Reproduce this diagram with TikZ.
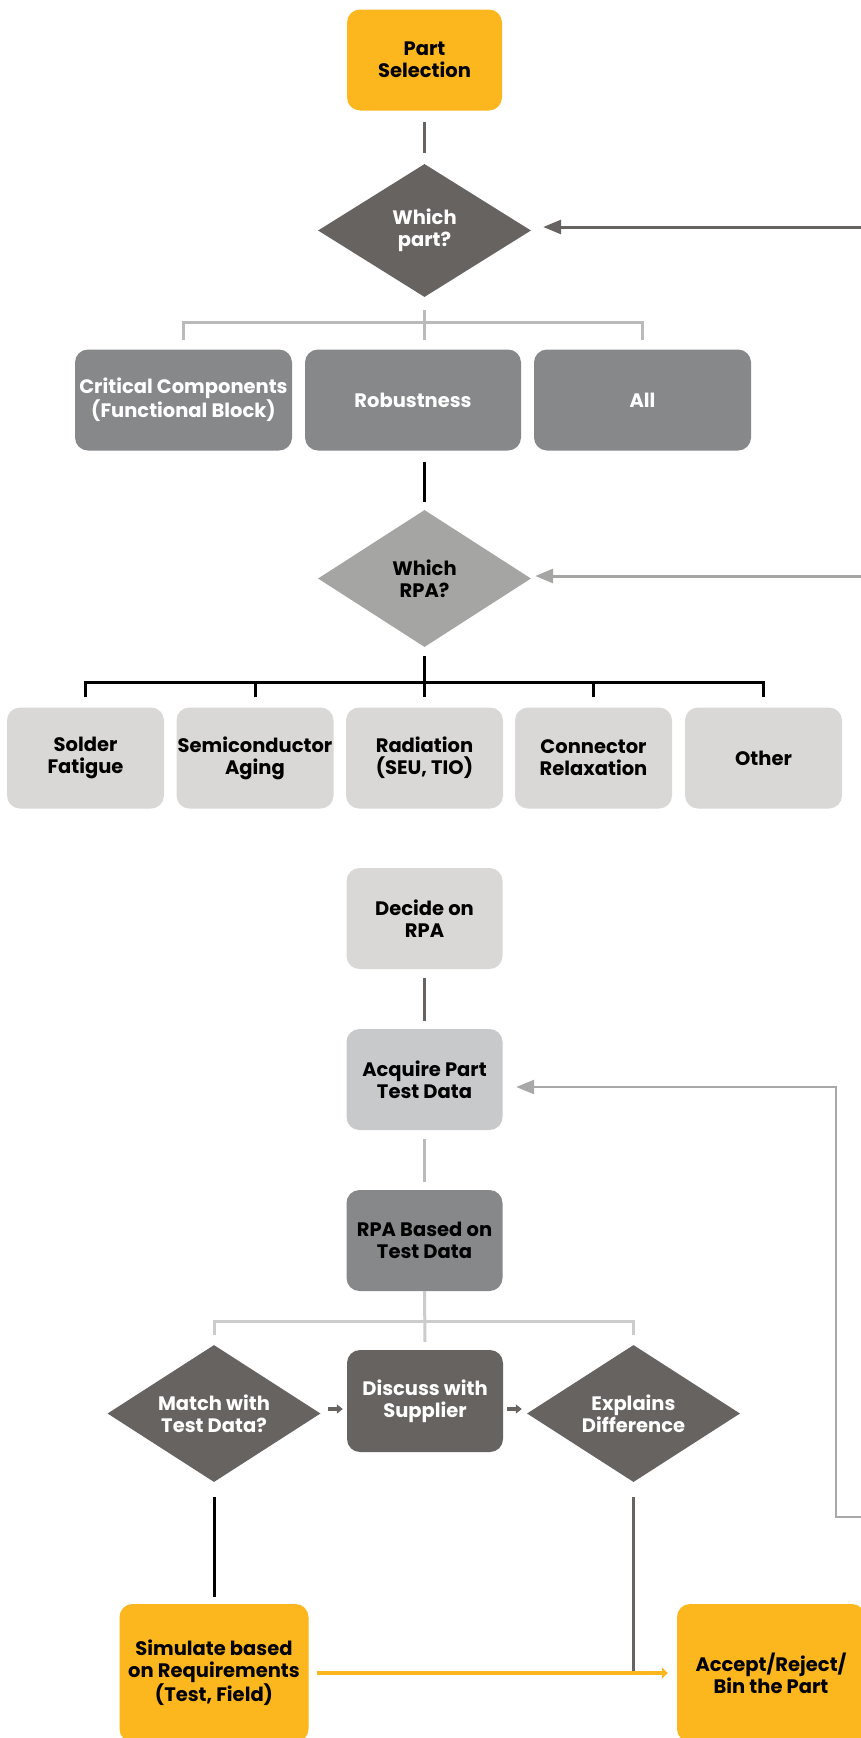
\documentclass[tikz,border=0pt]{standalone}
\usepackage{fontspec}
\setmainfont{Poppins}
\usetikzlibrary{shapes.geometric,arrows.meta}

\definecolor{partyellow}{RGB}{253,183,30}
\definecolor{darkgrey}{RGB}{103,99,97}
\definecolor{midgrey}{RGB}{135,136,138}
\definecolor{rpagrey}{RGB}{165,165,164}
\definecolor{lightgrey}{RGB}{217,216,214}
\definecolor{coolgrey}{RGB}{200,201,203}
\definecolor{linegrey}{RGB}{186,186,186}
\definecolor{palegrey}{RGB}{204,204,204}
\definecolor{loopgrey}{RGB}{168,168,168}

\begin{document}
\begin{tikzpicture}[x=1pt,y=1pt,yscale=-1,
    box/.style={rectangle, rounded corners=13pt, inner sep=0pt, align=center,
      minimum height=101pt, font=\bfseries\fontsize{19.5}{22}\selectfont},
    choice/.style={diamond, aspect=1.6, inner sep=0pt, align=center, minimum width=213pt,
      minimum height=137pt, font=\bfseries\fontsize{19.5}{22}\selectfont},
    wire/.style={line width=3pt},
    tip/.style={-{Triangle[length=18pt,width=14pt]}}]
      \clip (0,0) rectangle (861,1738);
      \fill[white] (0,0) rectangle (861,1738);

      %Rounded Rect [Part Selection]
      \node[box, fill=partyellow, minimum width=155pt] (select) at (424.5,60) {Part\\Selection};
      %Diamond [Which part]
      \node[choice, fill=darkgrey, text=white, minimum height=133pt] (whichpart) at (424.5,230.5) {Which\\part?};

      %Rounded Rect [scope]
      \node[box, fill=midgrey, text=white, minimum width=217pt] (crit) at (183.5,400) {Critical Components\\(Functional Block)};
      \node[box, fill=midgrey, text=white, minimum width=216pt] (robust) at (413,400) {Robustness};
      \node[box, fill=midgrey, text=white, minimum width=217pt] (all) at (642.5,400) {All};

      %Diamond [Which RPA]
      \node[choice, fill=rpagrey] (whichrpa) at (424.5,578.5) {Which\\RPA?};

      %Rounded Rect [RPA kinds]
      \node[box, fill=lightgrey, minimum width=157pt] (solder) at (85.5,758) {Solder\\Fatigue};
      \node[box, fill=lightgrey, minimum width=157pt] (semi) at (255,758) {Semiconductor\\Aging};
      \node[box, fill=lightgrey, minimum width=157pt] (rad) at (424.5,758) {Radiation\\(SEU, TIO)};
      \node[box, fill=lightgrey, minimum width=157pt] (conn) at (593.5,758) {Connector\\Relaxation};
      \node[box, fill=lightgrey, minimum width=157pt] (other) at (763.5,758) {Other};

      %Rounded Rect [main column]
      \node[box, fill=lightgrey, minimum width=156pt] (decide) at (424.5,918.5) {Decide on\\RPA};
      \node[box, fill=coolgrey, minimum width=156pt] (acquire) at (424.5,1079.5) {Acquire Part\\Test Data};
      \node[box, fill=midgrey, minimum width=156pt] (rpabased) at (424.5,1240.5) {RPA Based on\\Test Data};

      %Diamonds and Rounded Rect [check]
      \node[choice, fill=darkgrey, text=white] (match) at (214,1413.5) {Match with\\Test Data?};
      \node[box, fill=darkgrey, text=white, minimum width=156pt, minimum height=102pt] (discuss) at (425,1401) {Discuss with\\Supplier};
      \node[choice, fill=darkgrey, text=white] (explain) at (633.5,1413.5) {Explains\\Difference};

      %Rounded Rect [outcome]
      \node[box, fill=partyellow, minimum width=189pt, minimum height=138pt] (sim) at (214,1673) {Simulate based\\on Requirements\\(Test, Field)};
      \node[box, fill=partyellow, minimum width=188pt, minimum height=138pt] (accept) at (771,1673) {Accept/Reject/\\Bin the Part};

      % Coordinates
      \coordinate (fork1) at (424.5,322);
      \coordinate (fork2) at (424.5,682);
      \coordinate (fork3) at (424.5,1321);
      \coordinate (partin) at (861,227);
      \coordinate (rpain) at (861,576);
      \coordinate (loopin) at (861,1517);
      \coordinate (loopturn) at (836,1517);

      %Straight Lines (shifts are in the flipped frame: +y is down)
      \draw[wire, darkgrey] ([yshift=11pt]select.south) -- ([yshift=-11pt]whichpart.north);
      \draw[wire, darkgrey, tip] (partin) -- ([xshift=12pt]whichpart.east |- partin);
      \draw[wire, linegrey] ([yshift=13pt]whichpart.south) -- ([yshift=-9pt]whichpart.south |- robust.north);
      \draw[wire, linegrey] ([yshift=-9pt]crit.north) |- (fork1) -| ([yshift=-9pt]all.north);
      \draw[wire, black] ([yshift=11pt]whichrpa.north |- robust.south) -- ([yshift=-8pt]whichrpa.north);
      \draw[wire, rpagrey, tip] (rpain) -- ([xshift=4pt]whichrpa.east |- rpain);

      \draw[wire, black] ([yshift=9pt]whichrpa.south) -- ([yshift=-10pt]whichrpa.south |- rad.north);
      \draw[wire, black] ([yshift=-10pt]solder.north) |- (fork2) -| ([yshift=-10pt]other.north);
      \draw[wire, black] ([yshift=-10pt]semi.north) -- (semi.north |- fork2);
      \draw[wire, black] ([yshift=-10pt]conn.north) -- (conn.north |- fork2);

      \draw[wire, darkgrey] ([yshift=9pt]decide.south) -- ([yshift=-8pt]acquire.north);
      \draw[wire, linegrey] ([yshift=9pt]acquire.south) -- ([yshift=-8pt]rpabased.north);
      \draw[wire, loopgrey, line width=2.5pt, tip] (loopin) -- (loopturn) |- ([xshift=13.5pt,yshift=7.5pt]acquire.east);

      \draw[wire, palegrey] (rpabased.south) -- ([yshift=-8pt]discuss.north);
      \draw[wire, palegrey] ([yshift=-10pt]match.north) |- (fork3) -| ([yshift=-10pt]explain.north);
      \draw[darkgrey, line width=3.5pt, -{Triangle[length=6pt,width=9pt]}] ([xshift=7pt,yshift=-4.5pt]match.east) -- ([xshift=-4pt,yshift=-4.5pt]discuss.west |- match.east);
      \draw[darkgrey, line width=3.5pt, -{Triangle[length=6pt,width=9pt]}] ([xshift=4pt,yshift=-4.5pt]discuss.east |- explain.west) -- ([xshift=-5pt,yshift=-4.5pt]explain.west);

      \draw[wire, black] ([yshift=15pt]match.south) -- ([yshift=-7pt]match.south |- sim.north);
      \draw[wire, darkgrey] ([yshift=15pt]explain.south) -- (explain.south |- sim.east);
      \draw[partyellow, line width=4pt, -{Triangle[length=6pt,width=11pt]}] ([xshift=8.5pt]sim.east) -- ([xshift=-9pt]accept.west);
\end{tikzpicture}
\end{document}
